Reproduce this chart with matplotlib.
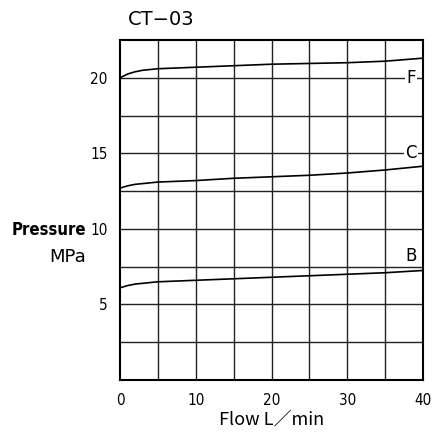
import matplotlib.pyplot as plt

# curves
flow = [0, 1, 2, 3, 5, 10, 15, 20, 25, 30, 35, 40]
press_F = [20.0, 20.25, 20.4, 20.5, 20.6, 20.7, 20.8, 20.9, 20.95, 21.0, 21.1, 21.3]
press_C = [12.7, 12.85, 12.95, 13.0, 13.1, 13.2, 13.35, 13.45, 13.55, 13.7, 13.9, 14.15]
press_B = [6.1, 6.25, 6.35, 6.4, 6.5, 6.6, 6.7, 6.8, 6.9, 7.0, 7.1, 7.25]
curve_names = ['F', 'C', 'B']
label_pos = [(38.4, 20.0), (38.4, 15.0), (38.4, 8.2)]

xticks = [0, 10, 20, 30, 40]
yticks = [5, 10, 15, 20]

fig = plt.figure(figsize=(4.32, 4.37), dpi=100)
ax = fig.add_axes([0.2778, 0.1304, 0.7014, 0.778])

for x in range(5, 40, 5):
    ax.axvline(x, color='#222222', lw=1.0, zorder=1)
for y in [2.5, 5, 7.5, 10, 12.5, 15, 17.5, 20]:
    ax.axhline(y, color='#222222', lw=1.0, zorder=1)

for p in [press_F, press_C, press_B]:
    ax.plot(flow, p, color='black', lw=1.2, zorder=3)

for name, (x, y) in zip(curve_names, label_pos):
    ax.text(x, y, name, ha='center', va='center', fontsize=12,
            bbox=dict(facecolor='white', edgecolor='none', pad=1), zorder=4)

ax.set_xlim(0, 40)
ax.set_ylim(0, 22.5)
ax.set_xticks(xticks)
ax.set_yticks(yticks)
ax.tick_params(length=0, labelsize=11, pad=9)
for lab in ax.get_xticklabels() + ax.get_yticklabels():
    lab.set_stretch('condensed')
for s in ax.spines.values():
    s.set_linewidth(1.5)

ax.set_xlabel('Flow L／min', fontsize=13, family=['Noto Sans CJK JP', 'DejaVu Sans'], labelpad=2)
fig.text(0.199, 0.474, 'Pressure', ha='right', va='center', fontsize=12,
         family='DejaVu Sans', stretch='condensed', weight='bold')
fig.text(0.200, 0.412, 'MPa', ha='right', va='center', fontsize=13)
fig.text(0.295, 0.955, 'CT−03', ha='left', va='center', fontsize=14)

fig.savefig('out.png')
